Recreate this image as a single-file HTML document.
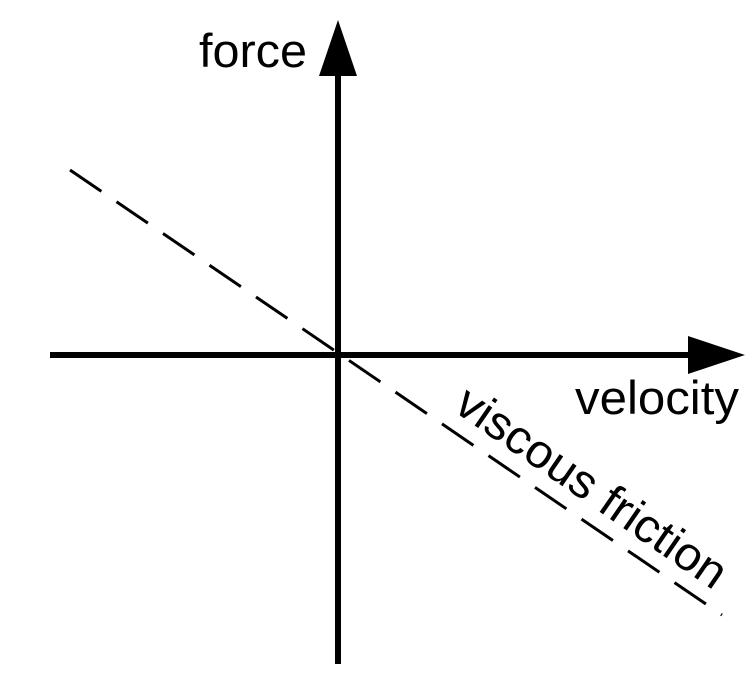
<!DOCTYPE html>
<html><head><style>html,body{margin:0;padding:0;background:#fff}</style></head>
<body>
<svg width="745" height="684" xmlns="http://www.w3.org/2000/svg" style="display:block">
<line x1="70" y1="170" x2="722" y2="615" stroke="#000" stroke-width="3" stroke-dasharray="38,18.3"/>
<line x1="338" y1="664" x2="338" y2="70" stroke="#000" stroke-width="6"/>
<polygon points="338,20 319,76 357,76" fill="#000"/>
<line x1="50" y1="355" x2="692" y2="355" stroke="#000" stroke-width="6"/>
<polygon points="745,355 688,336 688,374" fill="#000"/>
<g font-family="Liberation Sans, Arial, sans-serif" font-size="47" fill="#000">
<text x="199" y="67" textLength="108" lengthAdjust="spacingAndGlyphs">force</text>
<text x="575" y="414" textLength="164" lengthAdjust="spacingAndGlyphs">velocity</text>
<text x="452" y="410" transform="rotate(34.6 452 410)" textLength="318" lengthAdjust="spacingAndGlyphs">viscous friction</text>
</g>
</svg>
</body></html>
